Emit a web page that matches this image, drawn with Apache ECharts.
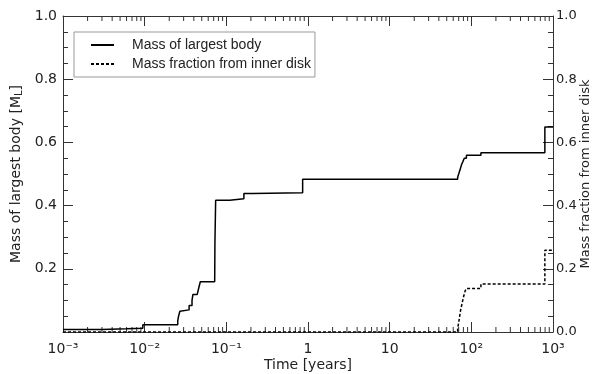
<!DOCTYPE html>
<html>
<head>
  <meta charset="utf-8">
  <title>Mass of largest body</title>
  <script src="https://cdn.jsdelivr.net/npm/echarts@6/dist/echarts.min.js"></script>
</head>
<body style="margin:0">
  <div id="main" style="width:597px;height:374px;"></div>
  <script type="text/javascript">
    // mass of largest body [time in years, mass]
    var largestTime = [0.001, 0.003, 0.006, 0.0095, 0.0254, 0.026, 0.027, 0.0284, 0.035, 0.038, 0.039, 0.044, 0.046, 0.048,
                       0.072, 0.0725, 0.074, 0.11, 0.164, 0.21, 0.86, 68, 70, 72, 74, 76, 79, 82, 87, 131, 795, 1000];
    var largestMass = [0.008, 0.010, 0.012, 0.023, 0.035, 0.050, 0.066, 0.070, 0.084, 0.100, 0.119, 0.122, 0.140, 0.159,
                       0.162, 0.280, 0.417, 0.422, 0.438, 0.441, 0.483, 0.490, 0.500, 0.510, 0.520, 0.530, 0.540, 0.550, 0.559, 0.567, 0.649, 0.649];

    // mass fraction from inner disk
    var innerTime = [0.001, 68, 70, 72, 74, 77, 80, 84, 87, 131, 795, 1000];
    var innerFrac = [0, 0.010, 0.030, 0.050, 0.070, 0.090, 0.110, 0.130, 0.138, 0.152, 0.259, 0.259];

    var xLabels = {'-3': '10\u207B\u00B3', '-2': '10\u207B\u00B2', '-1': '10\u207B\u00B9', '0': '1', '1': '10', '2': '10\u00B2', '3': '10\u00B3'};

    // log minor ticks 2..9 in every decade
    var minorTicks = [];
    [0.001, 0.01, 0.1, 1, 10, 100].forEach(function (d) {
      for (var k = 2; k <= 9; k++) minorTicks.push([d * k, 0]);
    });

    var font = 'DejaVu Sans';
    var ink = '#222';

    var myChart = echarts.init(document.getElementById('main'));

    function pairs(xs, ys) {
      return xs.map(function (x, i) { return [x, ys[i]]; });
    }

    var option = {
      animation: false,
      grid: { left: 63, right: 44, top: 16, bottom: 42, outerBoundsMode: 'none', containLabel: false },
      legend: {
        orient: 'vertical',
        left: 74,
        top: 32,
        padding: [6, 4, 6, 16],
        itemGap: 5,
        itemWidth: 23,
        itemHeight: 12,
        borderColor: '#999',
        borderWidth: 1,
        itemStyle: { opacity: 0 },
        textStyle: { fontFamily: 'Liberation Sans', fontSize: 14, color: ink, padding: [0, 0, 0, 13] },
        data: ['Mass of largest body', 'Mass fraction from inner disk']
      },
      xAxis: [
        {
          type: 'log',
          logBase: 10,
          min: 0.001,
          max: 1000,
          splitNumber: 6,
          name: 'Time [years]',
          nameLocation: 'middle',
          nameMoveOverlap: false,
          nameGap: 26,
          nameTextStyle: { fontFamily: font, fontSize: 14, color: ink },
          axisLine: { onZero: false, lineStyle: { color: '#333', width: 1 } },
          axisTick: { inside: true, length: 10, lineStyle: { color: '#333' } },
          splitLine: { show: false },
          axisLabel: {
            fontFamily: font, fontSize: 14, color: ink, margin: 10,
            formatter: function (v) { return xLabels[Math.round(Math.log10(v))]; }
          }
        },
        {
          type: 'log',
          logBase: 10,
          min: 0.001,
          max: 1000,
          splitNumber: 6,
          position: 'top',
          axisLine: { onZero: false, lineStyle: { color: '#333', width: 1 } },
          axisTick: { inside: true, length: 10, lineStyle: { color: '#333' } },
          axisLabel: { show: false },
          splitLine: { show: false }
        }
      ],
      yAxis: [
        {
          type: 'value',
          min: 0,
          max: 1,
          interval: 0.2,
          name: 'Mass of largest body [M{sub|L}]',
          nameLocation: 'middle',
          nameRotate: 90,
          nameMoveOverlap: false,
          nameGap: 39,
          nameTextStyle: {
            fontFamily: font, fontSize: 14, color: ink,
            rich: { sub: { fontFamily: font, fontSize: 10, color: ink, verticalAlign: 'bottom', padding: [6, 0, 0, 0] } }
          },
          axisLine: { show: true, onZero: false, lineStyle: { color: '#333', width: 1 } },
          axisTick: { show: true, inside: true, length: 10, lineStyle: { color: '#333' } },
          minorTick: { show: true, splitNumber: 4, length: 5, lineStyle: { color: '#333' } },
          splitLine: { show: false },
          axisLabel: {
            fontFamily: font, fontSize: 14, color: ink, margin: 6,
            formatter: function (v) { return v === 0 ? '' : v.toFixed(1); }
          }
        },
        {
          type: 'value',
          min: 0,
          max: 1,
          interval: 0.2,
          position: 'right',
          name: 'Mass fraction from inner disk',
          nameLocation: 'middle',
          nameRotate: 90,
          nameMoveOverlap: false,
          nameGap: 26,
          nameTextStyle: { fontFamily: font, fontSize: 13, color: ink },
          axisLine: { show: true, onZero: false, lineStyle: { color: '#333', width: 1 } },
          axisTick: { show: true, inside: true, length: 10, lineStyle: { color: '#333' } },
          minorTick: { show: true, splitNumber: 4, length: 5, lineStyle: { color: '#333' } },
          splitLine: { show: false },
          axisLabel: {
            fontFamily: font, fontSize: 13, color: ink, margin: 3,
            formatter: function (v) { return v.toFixed(1); }
          }
        }
      ],
      series: [
        {
          name: 'Mass of largest body',
          type: 'line',
          step: 'end',
          symbol: 'none',
          color: '#000',
          lineStyle: { color: '#000', width: 1.5 },
          data: pairs(largestTime, largestMass)
        },
        {
          name: 'Mass fraction from inner disk',
          type: 'line',
          step: 'end',
          symbol: 'none',
          color: '#000',
          lineStyle: { color: '#000', width: 1.5, type: [3, 2] },
          data: pairs(innerTime, innerFrac)
        },
        {
          // minor log ticks on bottom and top frame
          type: 'custom',
          silent: true,
          clip: false,
          renderItem: function (params, api) {
            var v = api.value(0);
            var b = api.coord([v, 0]);
            var t = api.coord([v, 1]);
            var st = { stroke: '#333', lineWidth: 1 };
            return {
              type: 'group',
              children: [
                { type: 'line', shape: { x1: b[0], y1: b[1], x2: b[0], y2: b[1] - 5 }, style: st },
                { type: 'line', shape: { x1: t[0], y1: t[1], x2: t[0], y2: t[1] + 5 }, style: st }
              ]
            };
          },
          data: minorTicks
        }
      ]
    };
    myChart.setOption(option);
  </script>
</body>
</html>
